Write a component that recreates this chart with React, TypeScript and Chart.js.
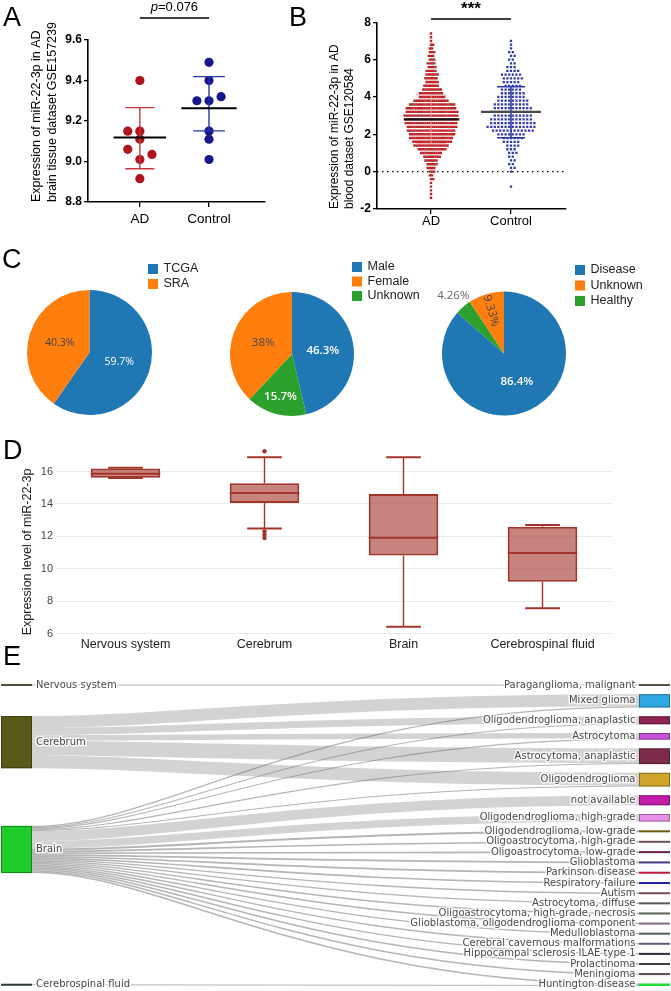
import React, { useEffect, useRef } from "react";
import { Chart, registerables } from "chart.js";

Chart.register(...registerables);

const ARIAL = 'Arial, "Liberation Sans", Helvetica, sans-serif';
const SANKEY_FONT = '"DejaVu Sans", Verdana, sans-serif';
const PIE_FONT = '"Open Sans", Arial, sans-serif';
Chart.defaults.font.family = ARIAL;

// ---------------- Panel A data ----------------
const A_CATEGORIES = ["AD", "Control"];
const A_AD_VALUES = [9.4, 9.15, 9.15, 9.11, 9.06, 9.035, 9.01, 8.915];
const A_AD_COLUMN = [0, -1, 0, 0, -1, 1, 0, 0];
const A_CONTROL_VALUES = [9.49, 9.4, 9.3, 9.3, 9.32, 9.15, 9.11, 9.01];
const A_CONTROL_COLUMN = [0, 0, -1, 0, 1, 0, 0, 0];
const A_MEANS = [9.118, 9.263];
const A_SD_LOW = [8.964, 9.151];
const A_SD_HIGH = [9.266, 9.419];
const A_Y_TICKS = [8.8, 9.0, 9.2, 9.4, 9.6];
const A_P_VALUE = "0.076";

// ---------------- Panel B data ----------------
const B_CATEGORIES = ["AD", "Control"];
const B_AD_BINS = [-1.4, -1.2, -1.0, -0.8, -0.6, -0.4, -0.2, 0.0, 0.2, 0.4, 0.6, 0.8, 1.0, 1.2, 1.4, 1.6, 1.8, 2.0, 2.2, 2.4, 2.6, 2.8, 3.0, 3.2, 3.4, 3.6, 3.8, 4.0, 4.2, 4.4, 4.6, 4.8, 5.0, 5.2, 5.4, 5.6, 5.8, 6.0, 6.2, 6.4, 6.6, 6.8, 7.0, 7.2, 7.4];
const B_AD_COUNTS = [1, 1, 1, 1, 1, 2, 2, 3, 4, 5, 6, 8, 10, 13, 16, 18, 20, 21, 22, 23, 24, 25, 25, 24, 23, 21, 16, 12, 11, 9, 7, 6, 6, 6, 5, 4, 4, 3, 3, 3, 2, 2, 1, 1, 1];
const B_CONTROL_BINS = [-0.8, -0.6, -0.4, -0.2, 0.0, 0.2, 0.4, 0.6, 0.8, 1.0, 1.2, 1.4, 1.6, 1.8, 2.0, 2.2, 2.4, 2.6, 2.8, 3.0, 3.2, 3.4, 3.6, 3.8, 4.0, 4.2, 4.4, 4.6, 4.8, 5.0, 5.2, 5.4, 5.6, 5.8, 6.0, 6.2, 6.4, 6.6, 6.8, 7.0];
const B_CONTROL_COUNTS = [1, 0, 0, 0, 1, 2, 2, 2, 2, 3, 3, 4, 5, 6, 8, 12, 14, 13, 12, 11, 12, 11, 10, 9, 8, 7, 6, 5, 5, 6, 6, 4, 3, 2, 2, 2, 2, 1, 1, 1];
const B_MEANS = [2.8, 3.2];
const B_SD_LOW = [1.5, 1.82];
const B_SD_HIGH = [4.1, 4.55];
const B_Y_TICKS = [-2, 0, 2, 4, 6, 8];
const B_SIG = "***";

// ---------------- Panel C data ----------------
const PIE1_LABELS = ["TCGA", "SRA"];
const PIE1_VALUES = [59.7, 40.3];
const PIE1_LEGEND = ["TCGA", "SRA"];
const PIE2_LABELS = ["Male", "Unknown", "Female"];
const PIE2_VALUES = [46.3, 15.7, 38];
const PIE2_LEGEND = ["Male", "Female", "Unknown"];
const PIE3_LABELS = ["Disease", "Healthy", "Unknown"];
const PIE3_VALUES = [86.4, 4.26, 9.33];
const PIE3_LEGEND = ["Disease", "Unknown", "Healthy"];

// ---------------- Panel D data ----------------
const D_CATEGORIES = ["Nervous system", "Cerebrum", "Brain", "Cerebrospinal fluid"];
const D_MIN = [15.6, 12.49, 6.43, 7.57];
const D_Q1 = [15.62, 14.06, 10.82, 9.2];
const D_MEDIAN = [15.86, 14.67, 11.92, 10.98];
const D_Q3 = [16.18, 15.28, 14.61, 12.59];
const D_MAX = [16.24, 16.88, 16.88, 12.7];
const D_OUTLIER_GROUP = ["Cerebrum", "Cerebrum", "Cerebrum", "Cerebrum"];
const D_OUTLIER_VALUE = [17.25, 12.3, 12.1, 11.9];
const D_Y_TICKS = [6, 8, 10, 12, 14, 16];

// ---------------- Panel E data ----------------
const E_SOURCES = ["Nervous system", "Cerebrum", "Brain", "Cerebrospinal fluid"];
const E_TARGETS = [
  "Paraganglioma, malignant", "Mixed glioma", "Oligodendroglioma, anaplastic", "Astrocytoma",
  "Astrocytoma, anaplastic", "Oligodendroglioma", "not available", "Oligodendroglioma, high-grade",
  "Oligodendroglioma, low-grade", "Oligoastrocytoma, high-grade", "Oligoastrocytoma, low-grade",
  "Glioblastoma", "Parkinson disease", "Respiratory failure", "Autism", "Astrocytoma, diffuse",
  "Oligoastrocytoma, high-grade, necrosis", "Glioblastoma, oligodendroglioma component",
  "Medulloblastoma", "Cerebral cavernous malformations", "Hippocampal sclerosis ILAE type 1",
  "Prolactinoma", "Meningioma", "Huntington disease",
];
const E_LINK_SOURCE = [
  "Nervous system", "Cerebrum", "Cerebrum", "Cerebrum", "Cerebrum", "Cerebrum",
  "Brain", "Brain", "Brain", "Brain", "Brain", "Brain", "Brain", "Brain", "Brain", "Brain",
  "Brain", "Brain", "Brain", "Brain", "Brain", "Brain", "Brain", "Brain", "Brain", "Brain",
  "Brain", "Brain", "Brain", "Cerebrospinal fluid",
];
const E_LINK_TARGET = [
  "Paraganglioma, malignant", "Mixed glioma", "Oligodendroglioma, anaplastic", "Astrocytoma",
  "Astrocytoma, anaplastic", "Oligodendroglioma",
  "Mixed glioma", "Oligodendroglioma, anaplastic", "Astrocytoma", "Astrocytoma, anaplastic",
  "Oligodendroglioma", "not available", "Oligodendroglioma, high-grade", "Oligodendroglioma, low-grade",
  "Oligoastrocytoma, high-grade", "Oligoastrocytoma, low-grade", "Glioblastoma", "Parkinson disease",
  "Respiratory failure", "Autism", "Astrocytoma, diffuse", "Oligoastrocytoma, high-grade, necrosis",
  "Glioblastoma, oligodendroglioma component", "Medulloblastoma", "Cerebral cavernous malformations",
  "Hippocampal sclerosis ILAE type 1", "Prolactinoma", "Meningioma", "Huntington disease",
  "Huntington disease",
];
const E_LINK_VALUE = [
  1, 12, 7, 5.6, 14.7, 12.7,
  1.3, 1, 1, 1, 1, 10, 7.6, 2, 1.6, 1.6, 1.6, 1.6, 1.6, 1.4, 1.4, 1.4, 1.4, 1.4, 1.4, 1.4, 1.4, 1.4, 1.5,
  1,
];

// ---------------- styles ----------------
const PIE_COLORS_1 = ["#1f77b4", "#ff7f0e"];
const PIE_COLORS_3 = ["#1f77b4", "#2ca02c", "#ff7f0e"];
const E_SOURCE_COLORS = ["#4e5040", "#5a5a18", "#1fcc2c", "#2e3a2e"];
const E_TARGET_COLORS = [
  "#555545", "#2ea8e0", "#8e2456", "#c84fd8", "#7e2a4a", "#d0a52c", "#c41aa8", "#e890e8",
  "#6e5a12", "#6e5060", "#6a1e50", "#463a8a", "#c0183c", "#2222a8", "#6e4e56", "#585858",
  "#5a6650", "#8a6880", "#4e5e5e", "#5c5c7c", "#2e2e3e", "#3e3e3e", "#5e4e4e", "#22dd33",
];

const base = () => ({
  responsive: false,
  animation: false,
  devicePixelRatio: 1,
  events: [],
  plugins: { legend: { display: false }, tooltip: { enabled: false } },
});

function statsPlugin(cfg: any) {
  return {
    id: "stats",
    afterDatasetsDraw(chart: any) {
      const { ctx } = chart;
      const x = chart.scales.x, y = chart.scales.y;
      ctx.save();
      cfg.means.forEach((m: number, i: number) => {
        const c = i + 1;
        ctx.strokeStyle = cfg.sdColors[i];
        ctx.lineWidth = cfg.sdWidth;
        ctx.beginPath();
        ctx.moveTo(x.getPixelForValue(c), y.getPixelForValue(cfg.lows[i]));
        ctx.lineTo(x.getPixelForValue(c), y.getPixelForValue(cfg.highs[i]));
        [cfg.lows[i], cfg.highs[i]].forEach((v: number) => {
          ctx.moveTo(x.getPixelForValue(c - cfg.capHalf[i]), y.getPixelForValue(v));
          ctx.lineTo(x.getPixelForValue(c + cfg.capHalf[i]), y.getPixelForValue(v));
        });
        ctx.stroke();
        ctx.strokeStyle = cfg.meanColors[i];
        ctx.lineWidth = cfg.meanWidth;
        ctx.beginPath();
        ctx.moveTo(x.getPixelForValue(c - cfg.meanHalf[i]), y.getPixelForValue(m));
        ctx.lineTo(x.getPixelForValue(c + cfg.meanHalf[i]), y.getPixelForValue(m));
        ctx.stroke();
      });
      ctx.restore();
    },
  };
}

function prismScales(opts: any) {
  return {
    x: {
      type: "linear",
      min: opts.xMin,
      max: opts.xMax,
      afterFit: (s: any) => { s.height = opts.xHeight; },
      afterBuildTicks: (s: any) => { s.ticks = [{ value: 1 }, { value: 2 }]; },
      ticks: {
        callback: (v: any) => opts.categories[Math.round(v) - 1] ?? "",
        font: { family: ARIAL, size: opts.xFont },
        color: "#000",
        padding: opts.xPad,
        maxRotation: 0,
        autoSkip: false,
      },
      grid: { drawOnChartArea: false, drawTicks: true, tickLength: 5, color: "#000", lineWidth: 1.3 },
      border: { color: "#000", width: 1.6 },
    },
    y: {
      min: opts.yMin,
      max: opts.yMax,
      afterFit: (s: any) => { s.width = opts.yWidth; },
      afterBuildTicks: (s: any) => { s.ticks = opts.yTicks.map((v: number) => ({ value: v })); },
      ticks: {
        callback: opts.yFormat,
        font: { family: ARIAL, size: 12, weight: "bold" },
        color: "#000",
        padding: 2,
      },
      grid: { drawOnChartArea: false, drawTicks: true, tickLength: 4, color: "#000", lineWidth: 1.3 },
      border: { color: "#000", width: 1.6 },
      title: {
        display: true,
        text: opts.title,
        align: "start",
        font: { family: ARIAL, size: opts.titleSize, lineHeight: opts.titleLH },
        color: "#000",
        padding: { top: opts.titlePad, bottom: 0 },
      },
    },
  };
}

function makeA(): any {
  const COLUMN_STEP = 0.175;
  const pts = (vals: number[], cols: number[], c: number) => vals.map((v, i) => ({ x: c + cols[i] * COLUMN_STEP, y: v }));
  return {
    type: "scatter",
    data: {
      datasets: [
        { data: pts(A_AD_VALUES, A_AD_COLUMN, 1), backgroundColor: "#b0131d", borderWidth: 0, pointRadius: 4.6 },
        { data: pts(A_CONTROL_VALUES, A_CONTROL_COLUMN, 2), backgroundColor: "#16188c", borderWidth: 0, pointRadius: 4.6 },
      ],
    },
    options: {
      ...base(),
      layout: { padding: { top: 40, right: 15, left: 0, bottom: 0 } },
      scales: prismScales({
        xMin: 0.25, xMax: 2.81, xHeight: 38, xPad: 4, xFont: 13.5, categories: A_CATEGORIES,
        yMin: 8.8, yMax: 9.6, yWidth: 88, yTicks: A_Y_TICKS, yFormat: (v: any) => Number(v).toFixed(1),
        title: ["Expression of miR-22-3p in AD", "brain tissue dataset GSE157239"],
        titleSize: 12.5, titleLH: 1.3, titlePad: 28.5,
      }),
    },
    plugins: [
      statsPlugin({
        means: A_MEANS, lows: A_SD_LOW, highs: A_SD_HIGH,
        sdColors: ["#c8363c", "#2a36a6"], sdWidth: 1.4, capHalf: [0.21, 0.23],
        meanHalf: [0.38, 0.4], meanColors: ["#000", "#000"], meanWidth: 2,
      }),
      {
        id: "sigA",
        afterDraw(chart: any) {
          const { ctx, chartArea } = chart;
          const x = chart.scales.x;
          const x1 = x.getPixelForValue(1), x2 = x.getPixelForValue(2);
          const yl = chartArea.top - 22;
          ctx.save();
          ctx.strokeStyle = "#000";
          ctx.lineWidth = 1.5;
          ctx.beginPath(); ctx.moveTo(x1, yl); ctx.lineTo(x2, yl); ctx.stroke();
          const italic = `italic 13px ${ARIAL}`, normal = `13px ${ARIAL}`;
          ctx.font = italic; const wP = ctx.measureText("p").width;
          const rest = "=" + A_P_VALUE;
          ctx.font = normal; const wR = ctx.measureText(rest).width;
          const start = (x1 + x2) / 2 - (wP + wR) / 2;
          ctx.fillStyle = "#000"; ctx.textBaseline = "alphabetic"; ctx.textAlign = "left";
          ctx.font = italic; ctx.fillText("p", start, 11);
          ctx.font = normal; ctx.fillText(rest, start + wP, 11);
          ctx.restore();
        },
      },
    ],
  };
}

// beeswarm layout: every bin row is centred, odd rows shifted by half a step (hex packing)
function swarm(bins: number[], counts: number[], center: number, spacingUnits: number) {
  const out: any[] = [];
  bins.forEach((v, r) => {
    const n = counts[r];
    const shift = (r % 2 === 1 ? 0.5 : 0) * spacingUnits * (n > 1 ? 1 : 0);
    for (let i = 0; i < n; i++) out.push({ x: center + shift + (i - (n - 1) / 2) * spacingUnits, y: v });
  });
  return out;
}

function makeB(): any {
  const X_MIN = 0.325, X_MAX = 2.6875, PLOT_W = 189;
  const unitPerPx = (X_MAX - X_MIN) / PLOT_W;
  return {
    type: "scatter",
    data: {
      datasets: [
        { data: swarm(B_AD_BINS, B_AD_COUNTS, 1, 2.2 * unitPerPx), backgroundColor: "#bd2428", borderWidth: 0, pointRadius: 1.7, pointStyle: "rect" },
        { data: swarm(B_CONTROL_BINS, B_CONTROL_COUNTS, 2, 3.6 * unitPerPx), backgroundColor: "#3038a8", borderWidth: 0, pointRadius: 1.6, pointStyle: "rect" },
      ],
    },
    options: {
      ...base(),
      layout: { padding: { top: 22.3, right: 105, left: 0, bottom: 0 } },
      scales: prismScales({
        xMin: X_MIN, xMax: X_MAX, xHeight: 31, xPad: 0, xFont: 13, categories: B_CATEGORIES,
        yMin: -2, yMax: 8, yWidth: 87, yTicks: B_Y_TICKS, yFormat: (v: any) => String(v),
        title: ["Expression of miR-22-3p in AD", "blood dataset GSE120584"],
        titleSize: 12, titleLH: 1.25, titlePad: 37.5,
      }),
    },
    plugins: [
      {
        id: "zeroLine",
        beforeDatasetsDraw(chart: any) {
          const { ctx, chartArea } = chart;
          const y0 = chart.scales.y.getPixelForValue(0);
          ctx.save();
          ctx.strokeStyle = "#000"; ctx.lineWidth = 1.3; ctx.setLineDash([1.5, 3.5]);
          ctx.beginPath(); ctx.moveTo(chartArea.left, y0); ctx.lineTo(chartArea.right, y0); ctx.stroke();
          ctx.restore();
        },
      },
      statsPlugin({
        means: B_MEANS, lows: B_SD_LOW, highs: B_SD_HIGH,
        sdColors: ["rgba(236,160,160,0.7)", "#2b36a8"], sdWidth: 1.5, capHalf: [0.19, 0.175],
        meanHalf: [0.34, 0.375], meanColors: ["#111", "#4a4a4a"], meanWidth: 2.2,
      }),
      {
        id: "sigB",
        afterDraw(chart: any) {
          const { ctx, chartArea } = chart;
          const x = chart.scales.x;
          const x1 = x.getPixelForValue(1), x2 = x.getPixelForValue(2);
          const yl = chartArea.top - 3.3;
          ctx.save();
          ctx.strokeStyle = "#000"; ctx.lineWidth = 1.5;
          ctx.beginPath(); ctx.moveTo(x1, yl); ctx.lineTo(x2, yl); ctx.stroke();
          ctx.fillStyle = "#000"; ctx.font = `bold 17px ${ARIAL}`;
          ctx.textAlign = "center"; ctx.textBaseline = "alphabetic";
          ctx.fillText(B_SIG, (x1 + x2) / 2, 14);
          ctx.restore();
        },
      },
    ],
  };
}

function pieLabelPlugin(textColors: string[], size: number, boldWhite: boolean) {
  return {
    id: "pieLabels",
    afterDatasetsDraw(chart: any) {
      const ctx = chart.ctx;
      const meta = chart.getDatasetMeta(0);
      const values = chart.data.datasets[0].data as number[];
      const total = values.reduce((a, b) => a + b, 0);
      meta.data.forEach((arc: any, i: number) => {
        const p = arc.getProps(["x", "y", "startAngle", "endAngle", "outerRadius"], true);
        const frac = values[i] / total;
        const mid = (p.startAngle + p.endAngle) / 2;
        let rf = 0.5, outside = false, radial = false;
        if (frac < 0.05) { rf = 1.24; outside = true; }
        else if (frac < 0.2) { rf = 0.72; radial = frac < 0.12; }
        const px = p.x + Math.cos(mid) * p.outerRadius * rf;
        const py = p.y + Math.sin(mid) * p.outerRadius * rf;
        const color = outside ? "#666" : textColors[i];
        const bold = boldWhite && color === "#fff";
        ctx.save();
        ctx.translate(px, py);
        if (radial) ctx.rotate(mid - Math.PI);
        ctx.font = `${bold ? "600 " : ""}${size}px ${PIE_FONT}`;
        ctx.fillStyle = color;
        ctx.textAlign = "center"; ctx.textBaseline = "middle";
        ctx.fillText(`${values[i]}%`, 0, 0);
        ctx.restore();
      });
    },
  };
}

function pieLegendPlugin(order: string[], boxX: number, rowY: number, rowGap: number) {
  return {
    id: "pieLegend",
    afterDraw(chart: any) {
      const ctx = chart.ctx;
      const labels = chart.data.labels as string[];
      const colors = chart.data.datasets[0].backgroundColor as string[];
      ctx.save();
      order.forEach((name, r) => {
        const i = labels.indexOf(name);
        const cy = rowY + r * rowGap;
        ctx.fillStyle = colors[i];
        ctx.fillRect(boxX, cy - 5, 10, 10);
        ctx.fillStyle = "#222";
        ctx.font = `12.5px ${ARIAL}`;
        ctx.textAlign = "left"; ctx.textBaseline = "middle";
        ctx.fillText(name, boxX + 15.5, cy);
      });
      ctx.restore();
    },
  };
}

function makePie(labels: string[], values: number[], colors: string[], legend: string[], textColors: string[],
  pad: any, radius: number, legendPos: number[], fontSize: number, boldWhite: boolean): any {
  return {
    type: "pie",
    data: { labels, datasets: [{ data: values, backgroundColor: colors, borderWidth: 0, hoverOffset: 0 }] },
    options: { ...base(), radius, layout: { padding: pad } },
    plugins: [pieLabelPlugin(textColors, fontSize, boldWhite), pieLegendPlugin(legend, legendPos[0], legendPos[1], legendPos[2])],
  };
}

function makeD(): any {
  const LINE = "#a3342a";
  return {
    type: "bar",
    data: {
      labels: D_CATEGORIES,
      datasets: [
        {
          type: "bar",
          data: D_Q1.map((q, i) => [q, D_Q3[i]]),
          backgroundColor: "rgba(175,80,72,0.7)",
          borderColor: LINE,
          borderWidth: 2,
          borderSkipped: false,
          barPercentage: 0.5,
          categoryPercentage: 1,
        },
        {
          type: "line",
          showLine: false,
          data: D_OUTLIER_VALUE.map((v, i) => ({ x: D_OUTLIER_GROUP[i], y: v })),
          backgroundColor: LINE,
          borderColor: LINE,
          borderWidth: 0,
          pointRadius: 2.2,
        },
      ],
    },
    options: {
      ...base(),
      layout: { padding: { top: 8.16, right: 18, left: 0, bottom: 0 } },
      scales: {
        x: {
          afterFit: (s: any) => { s.height = 20.7; },
          grid: { display: false, drawTicks: false },
          border: { display: false },
          ticks: { font: { family: ARIAL, size: 12.5 }, color: "#222", padding: 2, maxRotation: 0, autoSkip: false },
        },
        y: {
          min: 5.9,
          max: 17.6,
          afterFit: (s: any) => { s.width = 56; },
          afterBuildTicks: (s: any) => { s.ticks = D_Y_TICKS.map((v) => ({ value: v })); },
          ticks: { font: { family: ARIAL, size: 11 }, color: "#444", padding: 3 },
          grid: { color: "#ebebeb", drawTicks: false, lineWidth: 1 },
          border: { display: false },
          title: {
            display: true,
            text: "Expression level of miR-22-3p",
            align: "start",
            font: { family: ARIAL, size: 12.5 },
            color: "#222",
            padding: { top: 20.5, bottom: 0 },
          },
        },
      },
    },
    plugins: [
      {
        id: "whiskers",
        afterDatasetsDraw(chart: any) {
          const { ctx } = chart;
          const y = chart.scales.y;
          const bars = chart.getDatasetMeta(0).data;
          ctx.save();
          ctx.strokeStyle = LINE;
          bars.forEach((bar: any, i: number) => {
            const cx = bar.x, w = bar.width;
            ctx.lineWidth = 1.4;
            ctx.beginPath();
            ctx.moveTo(cx, y.getPixelForValue(D_Q3[i])); ctx.lineTo(cx, y.getPixelForValue(D_MAX[i]));
            ctx.moveTo(cx, y.getPixelForValue(D_Q1[i])); ctx.lineTo(cx, y.getPixelForValue(D_MIN[i]));
            ctx.stroke();
            ctx.lineWidth = 2;
            ctx.beginPath();
            [D_MIN[i], D_MAX[i]].forEach((v) => {
              ctx.moveTo(cx - w / 4, y.getPixelForValue(v)); ctx.lineTo(cx + w / 4, y.getPixelForValue(v));
            });
            ctx.moveTo(cx - w / 2, y.getPixelForValue(D_MEDIAN[i])); ctx.lineTo(cx + w / 2, y.getPixelForValue(D_MEDIAN[i]));
            ctx.stroke();
          });
          ctx.restore();
        },
      },
    ],
  };
}

const E_NODE_WIDTH = 31;
const E_NODE_GAP = 8.7;

function makeE(): any {
  return {
    type: "scatter",
    data: { datasets: [{ data: [] }] },
    options: {
      ...base(),
      layout: { padding: { top: 8.5, bottom: 5, left: 1, right: 1 } },
      scales: {
        x: { type: "linear", min: 0, max: 1, display: false },
        y: { type: "linear", min: 0, max: 1, reverse: true, display: false },
      },
    },
    plugins: [
      {
        id: "sankey",
        afterDatasetsDraw(chart: any) {
          const ctx = chart.ctx;
          const xs = chart.scales.x, ys = chart.scales.y;
          const top = ys.getPixelForValue(0), bottom = ys.getPixelForValue(1);
          const H = bottom - top;
          const xl = xs.getPixelForValue(0), xr = xs.getPixelForValue(1);
          const srcIdx = E_LINK_SOURCE.map((s) => E_SOURCES.indexOf(s));
          const tgtIdx = E_LINK_TARGET.map((t) => E_TARGETS.indexOf(t));
          const tVal = E_TARGETS.map((_, t) => E_LINK_VALUE.reduce((a, v, i) => a + (tgtIdx[i] === t ? v : 0), 0));
          const sVal = E_SOURCES.map((_, s) => E_LINK_VALUE.reduce((a, v, i) => a + (srcIdx[i] === s ? v : 0), 0));
          const k = (H - E_NODE_GAP * (E_TARGETS.length - 1)) / tVal.reduce((a, b) => a + b, 0);
          const tY0: number[] = [];
          let cur = top;
          tVal.forEach((v, t) => { tY0[t] = cur; cur += v * k + E_NODE_GAP; });
          const tC = tVal.map((v, t) => tY0[t] + (v * k) / 2);
          const ideal = sVal.map((_, s) => {
            let acc = 0, w = 0;
            E_LINK_VALUE.forEach((v, i) => { if (srcIdx[i] === s) { acc += v * tC[tgtIdx[i]]; w += v; } });
            return acc / w;
          });
          const order = sVal.map((_, i) => i).sort((a, b) => ideal[a] - ideal[b]);
          const sY0: number[] = [];
          let prev = top - E_NODE_GAP;
          order.forEach((s) => {
            const y0 = Math.max(ideal[s] - (sVal[s] * k) / 2, prev + E_NODE_GAP, top);
            sY0[s] = y0;
            prev = y0 + sVal[s] * k;
          });
          let limit = bottom;
          [...order].reverse().forEach((s) => {
            const h = sVal[s] * k;
            if (sY0[s] + h > limit) sY0[s] = limit - h;
            limit = sY0[s] - E_NODE_GAP;
          });
          const sC = sVal.map((v, s) => sY0[s] + (v * k) / 2);

          const links = E_LINK_VALUE.map((v, i) => ({ s: srcIdx[i], t: tgtIdx[i], h: v * k, sy: 0, ty: 0 }));
          const sOff = sY0.slice(), tOff = tY0.slice();
          E_SOURCES.forEach((_, s) => {
            links.filter((l) => l.s === s).sort((a, b) => tC[a.t] - tC[b.t]).forEach((l) => { l.sy = sOff[s]; sOff[s] += l.h; });
          });
          E_TARGETS.forEach((_, t) => {
            links.filter((l) => l.t === t).sort((a, b) => sC[a.s] - sC[b.s]).forEach((l) => { l.ty = tOff[t]; tOff[t] += l.h; });
          });

          const x0 = xl + E_NODE_WIDTH, x1 = xr - E_NODE_WIDTH, dx = x1 - x0;
          const c1 = x0 + 0.22 * dx, c2 = x0 + 0.45 * dx;
          ctx.save();
          links.forEach((l) => {
            if (l.h >= 2.2) {
              ctx.fillStyle = "rgba(150,150,150,0.42)";
              ctx.beginPath();
              ctx.moveTo(x0, l.sy);
              ctx.bezierCurveTo(c1, l.sy, c2, l.ty, x1, l.ty);
              ctx.lineTo(x1, l.ty + l.h);
              ctx.bezierCurveTo(c2, l.ty + l.h, c1, l.sy + l.h, x0, l.sy + l.h);
              ctx.closePath();
              ctx.fill();
            } else {
              const a = l.sy + l.h / 2, b = l.ty + l.h / 2;
              ctx.strokeStyle = "rgba(120,120,120,0.55)";
              ctx.lineWidth = Math.max(l.h, 1.1);
              ctx.beginPath();
              ctx.moveTo(x0, a);
              ctx.bezierCurveTo(c1, a, c2, b, x1, b);
              ctx.stroke();
            }
          });
          const drawNode = (x: number, y0: number, h: number, color: string) => {
            const hh = Math.max(h, 2);
            const yy = h < 2 ? y0 + h / 2 - 1 : y0;
            ctx.fillStyle = color;
            ctx.fillRect(x, yy, E_NODE_WIDTH, hh);
            if (h > 3) {
              ctx.strokeStyle = "rgba(0,0,0,0.35)";
              ctx.lineWidth = 1;
              ctx.strokeRect(x + 0.5, yy + 0.5, E_NODE_WIDTH - 1, hh - 1);
            }
          };
          E_SOURCES.forEach((_, s) => drawNode(xl, sY0[s], sVal[s] * k, E_SOURCE_COLORS[s]));
          E_TARGETS.forEach((_, t) => drawNode(xr - E_NODE_WIDTH, tY0[t], tVal[t] * k, E_TARGET_COLORS[t]));

          ctx.font = `10px ${SANKEY_FONT}`;
          ctx.textBaseline = "middle";
          ctx.lineJoin = "round";
          const label = (text: string, x: number, y: number, align: string) => {
            ctx.textAlign = align;
            ctx.strokeStyle = "rgba(255,255,255,0.85)";
            ctx.lineWidth = 3;
            ctx.strokeText(text, x, y);
            ctx.fillStyle = "#4a4a4a";
            ctx.fillText(text, x, y);
          };
          E_SOURCES.forEach((name, s) => label(name, xl + E_NODE_WIDTH + 4, sC[s], "left"));
          E_TARGETS.forEach((name, t) => label(name, xr - E_NODE_WIDTH - 3.5, tC[t], "right"));
          ctx.restore();
        },
      },
    ],
  };
}

function ChartCanvas(props: { left: number; top: number; width: number; height: number; make: () => any }) {
  const ref = useRef<HTMLCanvasElement | null>(null);
  useEffect(() => {
    if (!ref.current) return;
    const chart = new Chart(ref.current, props.make());
    return () => chart.destroy();
  }, []);
  const { left, top, width, height } = props;
  return (
    <div style={{ position: "absolute", left, top, width, height }}>
      <canvas ref={ref} width={width} height={height} style={{ display: "block", width, height }} />
    </div>
  );
}

const letterStyle = (left: number, top: number): React.CSSProperties => ({
  position: "absolute", left, top, fontFamily: ARIAL, fontSize: 27, lineHeight: "27px", color: "#000",
});

export default function App() {
  return (
    <div style={{ position: "absolute", left: 0, top: 0, width: 671, height: 991, background: "#fff", overflow: "hidden" }}>
      <ChartCanvas left={0} top={0} width={280} height={240} make={makeA} />
      <ChartCanvas left={290} top={0} width={381} height={240} make={makeB} />
      <ChartCanvas left={0} top={255} width={220} height={170}
        make={() => makePie(PIE1_LABELS, PIE1_VALUES, PIE_COLORS_1, PIE1_LEGEND, ["#fff", "#444"],
          { left: 27, right: 68, top: 35, bottom: 10 }, 62.5, [148, 14, 15], 10.5, false)} />
      <ChartCanvas left={220} top={255} width={200} height={170}
        make={() => makePie(PIE2_LABELS, PIE2_VALUES, PIE_COLORS_3, PIE2_LEGEND, ["#fff", "#fff", "#444"],
          { left: 10, right: 66, top: 37, bottom: 9 }, 62, [132, 12, 14.5], 11.5, true)} />
      <ChartCanvas left={420} top={255} width={251} height={170}
        make={() => makePie(PIE3_LABELS, PIE3_VALUES, PIE_COLORS_3, PIE3_LEGEND, ["#fff", "#666", "#444"],
          { left: 22, right: 105, top: 36.5, bottom: 9.5 }, 62, [155, 15, 15.5], 11.5, true)} />
      <ChartCanvas left={0} top={436} width={630} height={220} make={makeD} />
      <ChartCanvas left={0} top={676} width={671} height={315} make={makeE} />
      <div style={letterStyle(3, 4)}>A</div>
      <div style={letterStyle(289, 4)}>B</div>
      <div style={letterStyle(2, 246)}>C</div>
      <div style={letterStyle(3, 437)}>D</div>
      <div style={letterStyle(3, 643)}>E</div>
    </div>
  );
}
